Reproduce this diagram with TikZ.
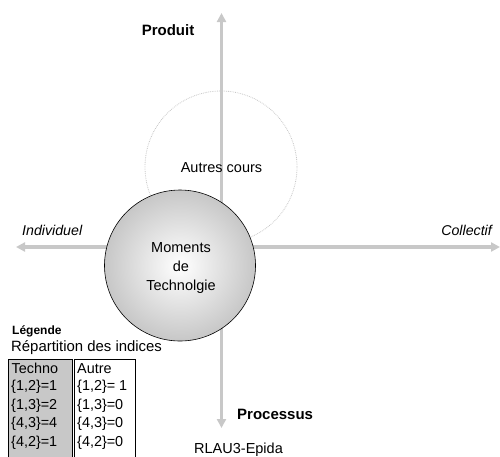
\documentclass[tikz,border=0pt]{standalone}
\usepackage{fontspec}
\setmainfont{Liberation Sans}
\usetikzlibrary{arrows.meta}
\definecolor{axisgray}{HTML}{C8C8C8}
\definecolor{boxgray}{HTML}{C8C8C8}
\tikzset{
  axis/.style={draw=axisgray, line width=3.5pt, -{Triangle[length=9pt,width=9pt]}},
  lbl/.style={inner sep=0pt, font=\fontsize{14.5}{19}\selectfont},
  blbl/.style={inner sep=0pt, font=\fontsize{15}{17}\selectfont\bfseries},
  ilbl/.style={inner sep=0pt, font=\fontsize{14.2}{16}\selectfont\itshape},
  cell/.style={inner sep=0pt, anchor=west, font=\fontsize{14.4}{16}\selectfont},
}
\begin{document}
\begin{tikzpicture}[x=1pt,y=-1pt]
\useasboundingbox (0,0) rectangle (500,456);
\clip (0,0) rectangle (500,456);
% axes
\coordinate (o) at (221.5,247);
\coordinate (top) at (221.5,13);
\coordinate (bot) at (221.5,428);
\coordinate (lft) at (16,247);
\coordinate (rgt) at (500,247);
\draw[axis] (o) -- (top);
\draw[axis] (o) -- (bot);
\draw[axis] (o) -- (lft);
\draw[axis] (o) -- (rgt);
% Autres cours circle
\node[circle, draw=axisgray, densely dotted, line width=0.8pt, minimum size=152pt, inner sep=0pt] (autres) at (221,167) {};
\node[lbl] (autrest) at (221.5,168) {Autres cours};
% Moments circle
\shade[inner color=white, outer color=black!22] (180,265.5) circle (75.5);
\node[circle, draw=black, line width=0.6pt, minimum size=151pt, inner sep=0pt] (moments) at (180,265.5) {};
\node[lbl, align=center] (momt) at (181,268) {Moments\\de\\Technolgie};
% axis labels
\node[blbl] (produit) at (168,30) {Produit};
\node[ilbl, anchor=west] (indiv) at (22,230) {Individuel};
\node[ilbl, anchor=east] (coll) at (492,230) {Collectif};
\node[blbl, anchor=west] (proc) at (237,414) {Processus};
\node[lbl, anchor=west] (rlau) at (194,450) {RLAU3-Epida};
% legend
\node[inner sep=0pt, anchor=west, font=\fontsize{12}{14}\selectfont\bfseries] (leg) at (12,331) {Légende};
\node[inner sep=0pt, anchor=west, font=\fontsize{14.9}{17}\selectfont] (rep) at (11,348) {Répartition des indices};
\filldraw[fill=boxgray, draw=black, line width=0.6pt] (8,359.5) rectangle (72,460);
\draw[black, line width=0.6pt] (74.5,359.5) rectangle (135,460);
\node[cell] (t0) at (11.5,368.5) {Techno};
\node[cell] (t1) at (11,387) {\{1,2\}=1};
\node[cell] (t2) at (11,405.5) {\{1,3\}=2};
\node[cell] (t3) at (11,424) {\{4,3\}=4};
\node[cell] (t4) at (11,442.5) {\{4,2\}=1};
\node[cell] (a0) at (77,368.5) {Autre};
\node[cell] (a1) at (77,387) {\{1,2\}= 1};
\node[cell] (a2) at (77,405.5) {\{1,3\}=0};
\node[cell] (a3) at (77,424) {\{4,3\}=0};
\node[cell] (a4) at (77,442.5) {\{4,2\}=0};
\end{tikzpicture}
\end{document}
